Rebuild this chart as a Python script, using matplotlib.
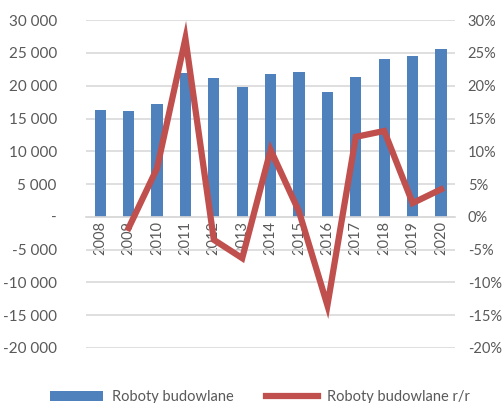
import matplotlib
matplotlib.use("Agg")
import matplotlib.pyplot as plt
from matplotlib.ticker import FuncFormatter, MultipleLocator

plt.rcParams['font.family'] = ['Lato', 'DejaVu Sans']

#------ DATA ------#
years = ['2008', '2009', '2010', '2011', '2012', '2013', '2014',
         '2015', '2016', '2017', '2018', '2019', '2020']
roboty = [16370, 16110, 17280, 21950, 21190, 19820, 21860,
          22060, 19050, 21400, 24140, 24600, 25600]
years_rr = years[1:]
roboty_rr = [-1.7, 7.4, 27.2, -3.5, -6.3, 10.2, 0.8, -13.5, 12.2, 13.1, 2.1, 4.2]

blue = '#4F81BD'
red = '#C0504D'
grey_txt = '#595959'
grid_c = '#D9D9D9'

fig = plt.figure(figsize=(5.03, 4.03), dpi=100)
ax = fig.add_axes([0.171, 0.1365, 0.734, 0.8135])
ax2 = ax.twinx()

x = list(range(len(years)))
bars = ax.bar(x, roboty, width=0.4, color=blue, zorder=2, label='Roboty budowlane')

ax.set_ylim(-20000, 30000)
ax.yaxis.set_major_locator(MultipleLocator(5000))
def fmt_left(v, pos):
    if v == 0:
        return '-'
    return f'{int(v):,}'.replace(',', ' ')
ax.yaxis.set_major_formatter(FuncFormatter(fmt_left))
ax.grid(axis='y', color=grid_c, linewidth=1.2, zorder=0)
ax.set_axisbelow(True)
ax.set_xlim(-0.5, len(years) - 0.5)
ax.set_xticks(x)
ax.set_xticklabels(years)

for s in ['top', 'left', 'right']:
    ax.spines[s].set_visible(False)
ax.spines['bottom'].set_position(('data', 0))
ax.spines['bottom'].set_color(grid_c)
ax.spines['bottom'].set_linewidth(1.2)
ax.tick_params(axis='x', length=0, pad=3, labelsize=10.5, colors=grey_txt, labelrotation=90)
ax.tick_params(axis='y', length=0, pad=21, labelsize=11, colors=grey_txt)

x_rr = [years.index(y) for y in years_rr]
line, = ax2.plot(x_rr, roboty_rr, color=red, linewidth=4.5, solid_joinstyle='miter',
                 zorder=3, label='Roboty budowlane r/r')
ax2.set_ylim(-20, 30)
ax2.yaxis.set_major_locator(MultipleLocator(5))
ax2.yaxis.set_major_formatter(FuncFormatter(lambda v, p: f'{int(round(v))}%'))
ax2.tick_params(axis='y', length=0, pad=9, labelsize=10.5, colors=grey_txt)
for s in ['top', 'left', 'right', 'bottom']:
    ax2.spines[s].set_visible(False)

fig.legend(handles=[bars, line], labels=['Roboty budowlane', 'Roboty budowlane r/r'],
           loc='lower center', bbox_to_anchor=(0.517, -0.035), ncol=2, frameon=False,
           fontsize=10.5, handlelength=3.6, handletextpad=0.6, columnspacing=2.2,
           labelcolor=grey_txt)

plt.savefig('out.png', dpi=100)
